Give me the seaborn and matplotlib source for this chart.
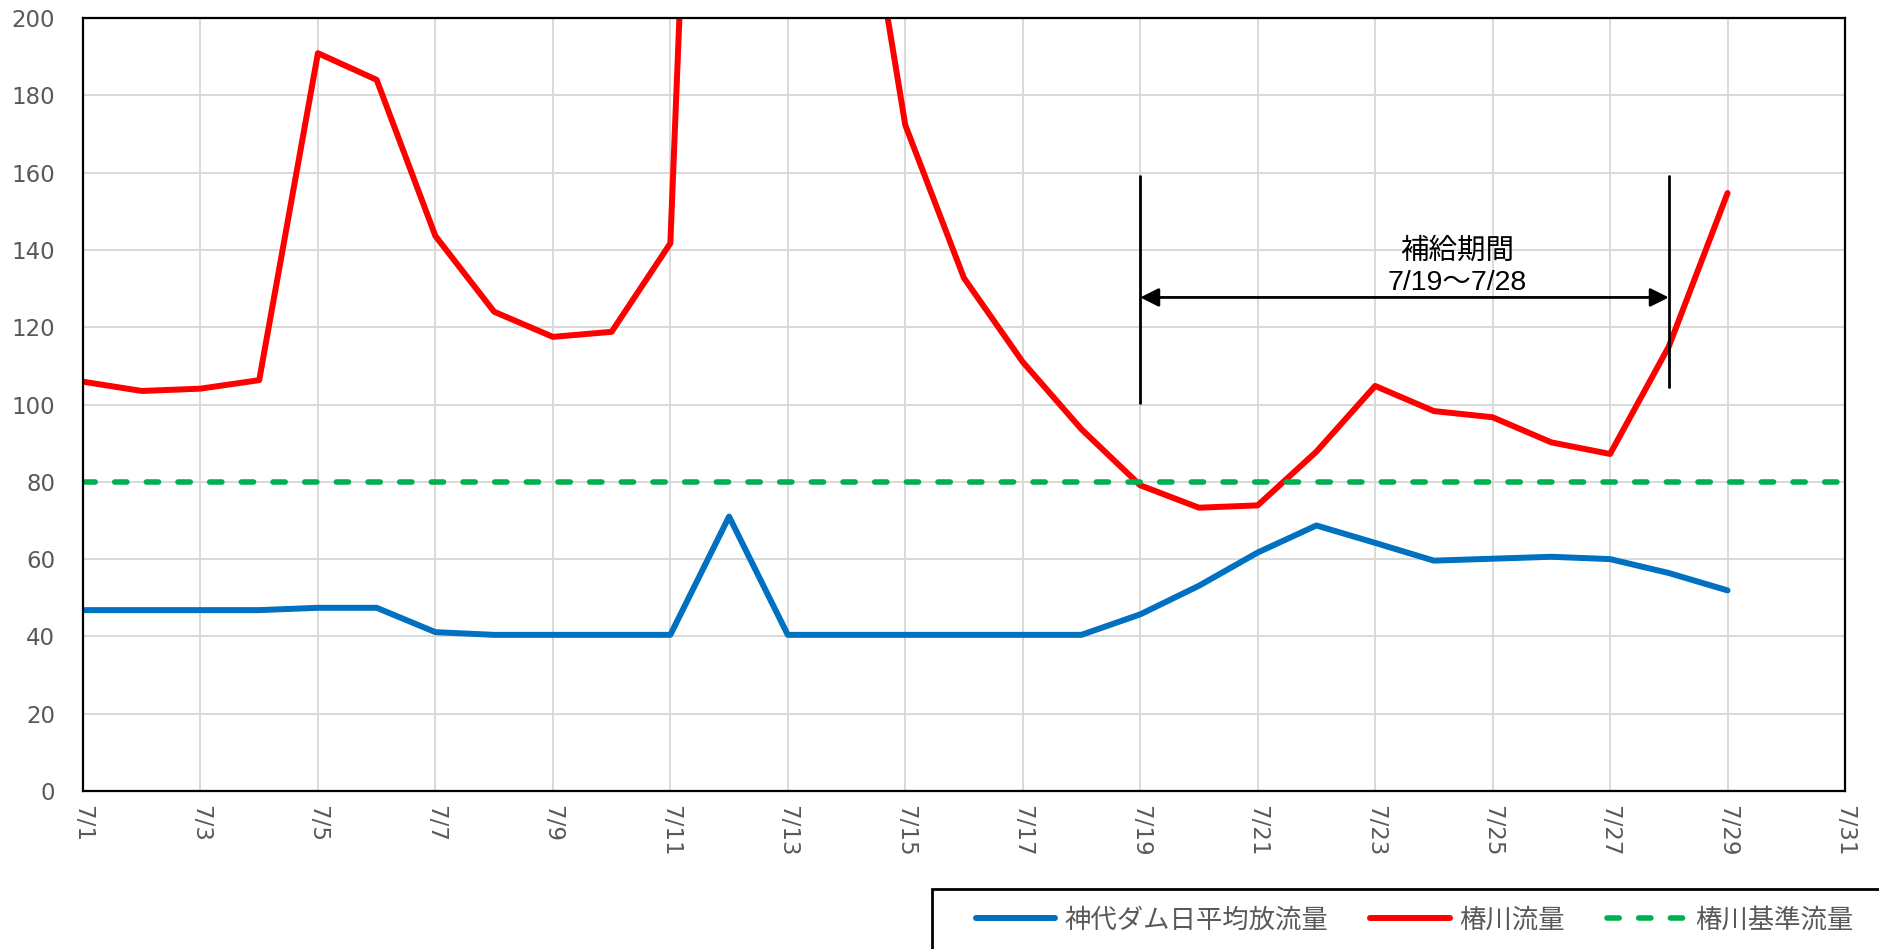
import matplotlib.pyplot as plt
import matplotlib.patches as mpatches
import pandas as pd
import seaborn as sns

# data (m3/s), 7/1 - 7/29
days = list(range(1, 30))
dam_release = [46.8, 46.8, 46.8, 46.8, 47.4, 47.4, 41.1, 40.4, 40.4, 40.4,
               40.4, 71.0, 40.4, 40.4, 40.4, 40.4, 40.4, 40.4, 45.7, 53.1,
               61.7, 68.7, 64.2, 59.6, 60.1, 60.6, 60.0, 56.4, 51.9]
tsubaki_flow = [105.9, 103.5, 104.1, 106.3, 190.9, 184.0, 143.6, 124.0, 117.5, 118.8,
                141.7, 520.0, 400.0, 265.0, 172.3, 132.7, 111.0, 93.6, 79.1, 73.3,
                73.9, 87.8, 104.8, 98.3, 96.7, 90.2, 87.2, 115.0, 154.7]
tsubaki_standard = 80

tick_days = [1, 3, 5, 7, 9, 11, 13, 15, 17, 19, 21, 23, 25, 27, 29, 31]
tick_labels = ['7/1', '7/3', '7/5', '7/7', '7/9', '7/11', '7/13', '7/15',
               '7/17', '7/19', '7/21', '7/23', '7/25', '7/27', '7/29', '7/31']

label_dam = '神代ダム日平均放流量'
label_tsubaki = '椿川流量'
label_standard = '椿川基準流量'

period_start, period_end = 19, 28

df = pd.DataFrame({'day': days, 'dam': dam_release, 'tsubaki': tsubaki_flow})

sns.set_style('white')
plt.rcParams['font.family'] = ['DejaVu Sans', 'Noto Sans CJK JP']

W, H = 1879, 949
fig = plt.figure(figsize=(W / 100, H / 100), dpi=100)
ax = fig.add_axes([83 / W, 1 - 791 / H, (1845 - 83) / W, (791 - 18) / H])

line_kw = dict(lw=4.3, solid_capstyle='round', solid_joinstyle='round')
sns.lineplot(data=df, x='day', y='dam', color='#0070C0', label=label_dam, ax=ax, **line_kw)
sns.lineplot(data=df, x='day', y='tsubaki', color='#FF0000', label=label_tsubaki, ax=ax, **line_kw)
ax.axhline(tsubaki_standard, color='#00B050', lw=4.0, linestyle=(0, (2.2, 3.5)),
           dash_capstyle='round', label=label_standard)

ax.set_xlim(1, 31)
ax.set_ylim(0, 200)
ax.set_yticks(range(0, 201, 20))
ax.set_xticks(tick_days)
ax.set_xticklabels(tick_labels, rotation=-90)
ax.set_xlabel('')
ax.set_ylabel('')
ax.grid(True, color='#d9d9d9', lw=1.4)
ax.set_axisbelow(True)
ax.tick_params(axis='both', length=0, labelsize=16.5, labelcolor='#595959')
ax.tick_params(axis='x', pad=10)
ax.tick_params(axis='y', pad=20)
for s in ax.spines.values():
    s.set_color('black')
    s.set_linewidth(1.6)

# supply period annotation
ax.plot([period_start, period_start], [100.5, 159], color='black', lw=2)
ax.plot([period_end, period_end], [104.5, 159], color='black', lw=2)
ax.annotate('', xy=(period_start, 127.7), xytext=(period_end, 127.7),
            arrowprops=dict(arrowstyle='<|-|>', color='black', lw=2,
                            mutation_scale=28, shrinkA=0, shrinkB=0))
ax.text(24.4, 135.5, '補給期間\n7/19～7/28', ha='center', va='center',
        fontsize=20.5, color='black', linespacing=1.25,
        family=['Liberation Sans', 'Noto Sans CJK JP'])

# legend below the plot
handles, labels = ax.get_legend_handles_labels()
ax.get_legend().remove()
fig.patches.append(mpatches.Rectangle((932 / W, -0.2), 0.6, 0.2 + 1 - 889 / H,
                                      transform=fig.transFigure, fill=False,
                                      edgecolor='black', lw=2))
leg = fig.legend(handles, labels, loc='center left', bbox_to_anchor=(976 / W, 1 - 920 / H),
                 ncol=3, frameon=False, borderpad=0, borderaxespad=0,
                 handlelength=3.0, handletextpad=0.35, columnspacing=1.6,
                 prop={'family': ['Noto Sans CJK JP'], 'size': 19})
for t in leg.get_texts():
    t.set_color('#595959')

fig.savefig('out.png', dpi=100)
